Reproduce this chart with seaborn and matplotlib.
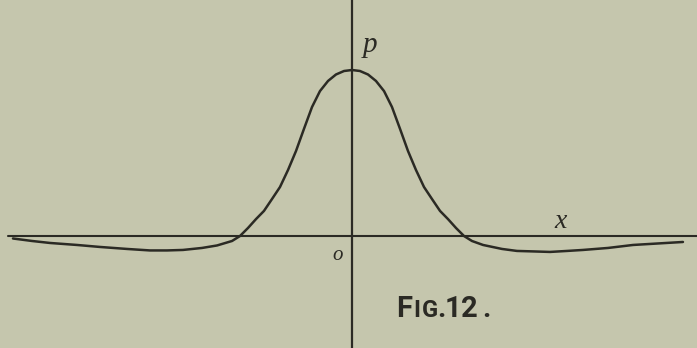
import numpy as np
import pandas as pd
import matplotlib
matplotlib.use("Agg")
import matplotlib.pyplot as plt
import seaborn as sns

# curve (x in units of the half-width of the hump, p relative to the peak)
x_vals = [-3.027, -2.857, -2.696, -2.455, -2.250, -2.009, -1.804, -1.652, -1.509, -1.339,
          -1.205, -1.071, -1.000, -0.929, -0.857, -0.786, -0.714, -0.643, -0.571, -0.500,
          -0.429, -0.357, -0.286, -0.214, -0.143, -0.071, 0.000,
          0.071, 0.143, 0.214, 0.286, 0.357, 0.429, 0.500, 0.571, 0.643, 0.714,
          0.786, 0.857, 0.929, 1.000, 1.071, 1.170, 1.339, 1.473, 1.625, 1.768,
          1.920, 2.063, 2.286, 2.509, 2.732, 2.955]
p_vals = [-0.015, -0.030, -0.042, -0.054, -0.066, -0.078, -0.087, -0.087, -0.084, -0.072,
          -0.057, -0.030, 0.000, 0.048, 0.102, 0.151, 0.223, 0.295, 0.398, 0.512,
          0.645, 0.777, 0.873, 0.934, 0.973, 0.994, 1.000,
          0.994, 0.973, 0.934, 0.873, 0.777, 0.645, 0.512, 0.398, 0.295, 0.223,
          0.151, 0.102, 0.048, 0.000, -0.030, -0.054, -0.078, -0.090, -0.093, -0.096,
          -0.090, -0.084, -0.072, -0.054, -0.045, -0.036]

axis_labels = ["p", "x", "o"]
# "FIG.12." set in small capitals: (character, is_full_capital)
caption = [("F", True), ("I", False), ("G", False), (".", True),
           ("1", True), ("2", True), (".", True)]

paper = "#c5c6ad"
ink = "#2b2a24"

sns.set_theme(style="white")
plt.rcParams['font.family'] = ['DejaVu Sans']

fig = plt.figure(figsize=(6.97, 3.48), dpi=100)
fig.patch.set_facecolor(paper)
ax = fig.add_axes([0, 0, 1, 1])
ax.set_facecolor(paper)

df = pd.DataFrame({"x": x_vals, "p": p_vals})
sns.lineplot(data=df, x="x", y="p", sort=False, estimator=None,
             color=ink, linewidth=1.8, ax=ax)
ax.lines[-1].set_solid_joinstyle("round")

# axes of the diagram
ax.axhline(0, xmin=8 / 697, xmax=1, color=ink, linewidth=1.5)
ax.axvline(0, color=ink, linewidth=1.6)

ax.set_xlim(-352 / 112, 345 / 112)
ax.set_ylim(-112 / 166, 236 / 166)
ax.axis("off")

serif = ["Liberation Serif", "DejaVu Serif"]
ax.text(0.16, 1.15, axis_labels[0], fontsize=21, style="italic", family=serif,
        color=ink, ha="center", va="center")
ax.text(1.86, 0.085, axis_labels[1], fontsize=20, style="italic", family=serif,
        color=ink, ha="center", va="center")
ax.text(-0.13, -0.12, axis_labels[2], fontsize=15, style="italic", family=serif,
        color=ink, ha="center", va="center")

# caption, one glyph at a time so the small capitals keep their spacing
centres = [404.5, 417, 429.5, 441, 453, 469, 486]
base = (236 - 317) / 166
for (ch, big), cx in zip(caption, centres):
    ax.text((cx - 352) / 112, base, ch, fontsize=21 if big else 17,
            fontweight="bold", family=["Roboto", "DejaVu Sans"], color=ink,
            ha="center", va="baseline")

fig.savefig("out.png", dpi=100, facecolor=paper)
